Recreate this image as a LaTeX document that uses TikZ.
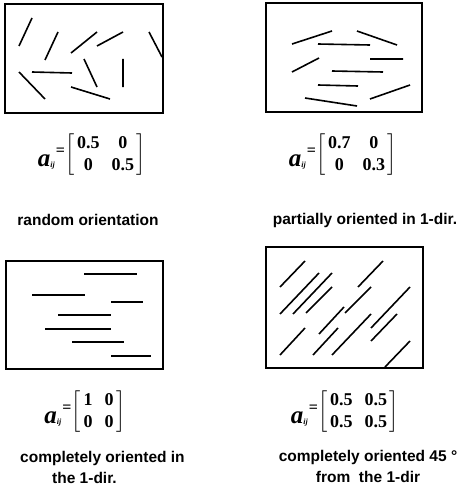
\documentclass[tikz,border=0pt]{standalone}
\usepackage{amsmath}
\usepackage{fontspec}
\setmainfont{Liberation Sans}
\newfontfamily\eqfont{Liberation Serif}
\usetikzlibrary{positioning}

% orientation tensor a_ij with its 2x2 matrix
\newcommand{\aij}{\raisebox{-7pt}{\fontsize{25}{25}\selectfont\bfseries\itshape a}\raisebox{-8pt}{\fontsize{8}{8}\selectfont\bfseries\itshape ij}}
\newcommand{\tensormat}[4]{\aij\hspace{1pt}\raisebox{4pt}{\fontsize{16}{16}\selectfont\bfseries=}$\left[\begin{array}{@{\,}c@{\hspace{12pt}}c@{\,}}\textbf{#1}&\textbf{#2}\\\textbf{#3}&\textbf{#4}\end{array}\right]$}

\begin{document}
\begin{tikzpicture}[x=1pt, y=-1pt,
    panel/.style={draw, line width=1.4pt, inner sep=0pt},
    fiber/.style={line width=1.6pt},
    tensor/.style={font=\eqfont\fontsize{18}{21.5}\selectfont, inner sep=0pt},
    caption/.style={font=\bfseries\fontsize{15.5}{21}\selectfont, inner sep=0pt, align=center}]

    \useasboundingbox (0,0) rectangle (465,487);

    % Sample boxes
    \node[panel, minimum width=158pt, minimum height=109pt] (random) at (84,58.5) {};
    \node[panel, minimum width=156pt, minimum height=109pt] (partial) at (344,57.5) {};
    \node[panel, minimum width=157pt, minimum height=108pt] (aligned) at (84.5,315) {};
    \node[panel, minimum width=157pt, minimum height=121pt] (diagonal) at (344.5,307.5) {};

    % Random fibres
    \draw[fiber] (32,18) -- (19,46)  (58,32) -- (45,60)  (97,32) -- (71,53)
        (123,32) -- (97,46)  (149,32) -- (162,57)  (32,72) -- (72,73)
        (19,72) -- (45,99)  (84,59) -- (97,87)  (123,59) -- (123,87)
        (71,87) -- (110,99);

    % Partially oriented fibres
    \draw[fiber] (292,44) -- (332,31)  (318,44) -- (370,45)  (357,31) -- (397,45)
        (292,72) -- (319,58)  (370,59) -- (403,59)  (332,71) -- (383,72)
        (318,85) -- (358,86)  (370,99) -- (410,85)  (305,98) -- (357,106);

    % Fibres along the 1-dir
    \draw[fiber] (84,274) -- (137,274)  (32,295) -- (85,295)  (111,302) -- (143,302)
        (58,315) -- (111,315)  (45,329) -- (111,329)  (72,342) -- (124,342)
        (111,356) -- (151,356);

    % Fibres at 45 degrees
    \draw[fiber] (280,287) -- (305,261)  (280,314) -- (319,273)  (293,314) -- (332,273)
        (306,313) -- (332,287)  (358,287) -- (383,261)  (345,313) -- (371,287)
        (319,334) -- (344,307)  (280,355) -- (305,328)  (313,355) -- (338,328)
        (332,355) -- (371,314)  (371,328) -- (410,287)  (371,341) -- (397,314)
        (385,367) -- (410,341);

    % Tensors
    \node[tensor] (arandom) at (92,155) {\tensormat{0.5}{0}{0}{0.5}};
    \node[tensor] (apartial) at (343,155) {\tensormat{0.7}{0}{0}{0.3}};
    \node[tensor] (aaligned) at (85,412) {\tensormat{1}{0}{0}{0}};
    \node[tensor] (adiagonal) at (345,412) {\tensormat{0.5}{0.5}{0.5}{0.5}};

    % Captions
    \node[caption] (crandom) at (88,220) {random orientation};
    \node[caption] (cpartial) at (365,220) {partially oriented in 1-dir.};
    \node[caption, anchor=west, align=left] (caligned) at (20,467) {completely oriented in\\\hspace*{32pt}the 1-dir.};
    \node[caption] (cdiagonal) at (368,466) {completely oriented 45 °\\from~~the 1-dir};
\end{tikzpicture}
\end{document}
